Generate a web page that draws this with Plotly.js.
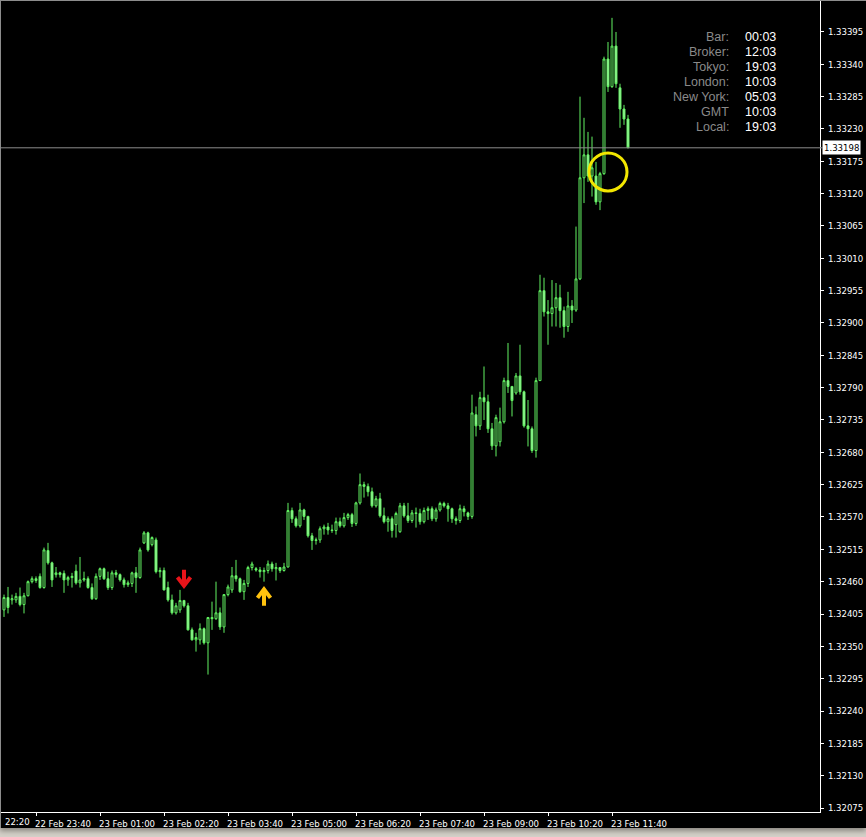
<!DOCTYPE html>
<html>
<head>
<meta charset="utf-8">
<script src="https://cdn.plot.ly/plotly-3.0.1.min.js"></script>
<style>
  html, body { margin: 0; padding: 0; background: #d4d0c8; width: 866px; height: 837px; overflow: hidden; }
  #wrap { position: absolute; left: 0; top: 0; width: 866px; height: 828px; background: #000; box-shadow: 0px 3px 5px #8a8780; }
  #chart { position: absolute; left: 0; top: 0; width: 866px; height: 828px; }
  .edge { position: absolute; background: #8c8c8c; pointer-events: none; }
</style>
</head>
<body>
<div id="wrap"><div id="chart"></div></div>
<div class="edge" style="left:0;top:0;width:866px;height:1px;"></div>
<div class="edge" style="left:0;top:0;width:1px;height:828px;"></div>
<script>
// ---- data: 5-minute bars, 22 Feb 23:00 .. 23 Feb 12:00 ----
const firstBarTime = '2011-02-22 23:00';
const barMinutes = 5;

const openP = [
1.32412,1.32433,1.32429,1.32429,1.32435,1.32421,1.32436,1.32460,1.32465,1.32469,
1.32450,1.32513,1.32492,1.32472,1.32475,1.32474,1.32463,1.32467,1.32478,1.32458,
1.32463,1.32465,1.32450,1.32431,1.32469,1.32482,1.32465,1.32450,1.32475,1.32472,
1.32463,1.32455,1.32457,1.32475,1.32467,1.32526,1.32543,1.32523,1.32531,1.32477,
1.32479,1.32450,1.32429,1.32407,1.32412,1.32428,1.32419,1.32378,1.32361,1.32361,
1.32380,1.32356,1.32399,1.32397,1.32407,1.32383,1.32438,1.32446,1.32470,1.32465,
1.32443,1.32457,1.32484,1.32482,1.32480,1.32477,1.32479,1.32490,1.32482,1.32484,
1.32479,1.32485,1.32581,1.32567,1.32555,1.32582,1.32571,1.32538,1.32530,1.32531,
1.32550,1.32553,1.32548,1.32547,1.32562,1.32555,1.32569,1.32574,1.32559,1.32594,
1.32625,1.32622,1.32613,1.32589,1.32601,1.32572,1.32562,1.32567,1.32557,1.32545,
1.32589,1.32572,1.32564,1.32577,1.32576,1.32562,1.32581,1.32584,1.32567,1.32582,
1.32593,1.32589,1.32584,1.32567,1.32564,1.32584,1.32577,1.32571,1.32744,1.32725,
1.32773,1.32766,1.32720,1.32691,1.32698,1.32732,1.32802,1.32792,1.32781,1.32810,
1.32783,1.32725,1.32720,1.32683,1.32802,1.32955,1.32919,1.32916,1.32926,1.32943,
1.32921,1.32894,1.32929,1.32922,1.32975,1.33147,1.33186,1.33150,1.33150,1.33106,
1.33154,1.33349,1.33302,1.33371,1.33300,1.33264,1.33247];

const highP = [
1.32438,1.32451,1.32438,1.32441,1.32450,1.32441,1.32462,1.32469,1.32469,1.32474,
1.32518,1.32526,1.32494,1.32485,1.32477,1.32479,1.32470,1.32475,1.32489,1.32502,
1.32477,1.32469,1.32457,1.32474,1.32484,1.32484,1.32477,1.32479,1.32480,1.32474,
1.32467,1.32462,1.32477,1.32485,1.32518,1.32546,1.32545,1.32537,1.32535,1.32484,
1.32484,1.32460,1.32438,1.32424,1.32446,1.32429,1.32424,1.32382,1.32373,1.32389,
1.32382,1.32400,1.32426,1.32460,1.32416,1.32439,1.32455,1.32485,1.32497,1.32467,
1.32463,1.32487,1.32494,1.32485,1.32485,1.32484,1.32496,1.32494,1.32492,1.32485,
1.32492,1.32594,1.32586,1.32571,1.32594,1.32584,1.32572,1.32543,1.32535,1.32554,
1.32557,1.32560,1.32557,1.32569,1.32569,1.32577,1.32577,1.32577,1.32596,1.32644,
1.32630,1.32627,1.32620,1.32606,1.32611,1.32586,1.32571,1.32571,1.32579,1.32594,
1.32594,1.32594,1.32582,1.32586,1.32584,1.32586,1.32588,1.32588,1.32586,1.32596,
1.32596,1.32594,1.32586,1.32571,1.32591,1.32589,1.32579,1.32778,1.32758,1.32783,
1.32826,1.32778,1.32730,1.32744,1.32756,1.32807,1.32866,1.32793,1.32815,1.32863,
1.32785,1.32769,1.32724,1.32807,1.32982,1.32977,1.32939,1.32973,1.32968,1.32965,
1.32928,1.32953,1.32939,1.33064,1.33285,1.33249,1.33225,1.33217,1.33174,1.33157,
1.33353,1.33378,1.33419,1.33395,1.33307,1.33271,1.33254];

const lowP = [
1.32400,1.32406,1.32421,1.32424,1.32418,1.32406,1.32435,1.32457,1.32458,1.32448,
1.32448,1.32489,1.32451,1.32467,1.32467,1.32441,1.32453,1.32450,1.32455,1.32450,
1.32460,1.32448,1.32429,1.32429,1.32463,1.32463,1.32446,1.32446,1.32467,1.32460,
1.32450,1.32451,1.32451,1.32441,1.32465,1.32524,1.32511,1.32520,1.32474,1.32467,
1.32445,1.32426,1.32404,1.32404,1.32407,1.32416,1.32377,1.32360,1.32341,1.32353,
1.32353,1.32302,1.32378,1.32395,1.32378,1.32373,1.32435,1.32441,1.32460,1.32441,
1.32429,1.32451,1.32479,1.32477,1.32467,1.32460,1.32474,1.32477,1.32462,1.32475,
1.32477,1.32484,1.32560,1.32552,1.32552,1.32565,1.32535,1.32514,1.32523,1.32526,
1.32540,1.32540,1.32543,1.32540,1.32552,1.32552,1.32565,1.32553,1.32555,1.32591,
1.32603,1.32605,1.32586,1.32586,1.32569,1.32559,1.32545,1.32535,1.32535,1.32543,
1.32569,1.32560,1.32560,1.32552,1.32557,1.32559,1.32565,1.32563,1.32562,1.32579,
1.32586,1.32562,1.32560,1.32557,1.32560,1.32571,1.32565,1.32567,1.32707,1.32718,
1.32735,1.32713,1.32684,1.32673,1.32690,1.32729,1.32781,1.32741,1.32778,1.32778,
1.32722,1.32690,1.32679,1.32671,1.32802,1.32911,1.32863,1.32894,1.32894,1.32892,
1.32875,1.32885,1.32900,1.32919,1.32973,1.33104,1.33140,1.33115,1.33101,1.33092,
1.33152,1.33293,1.33300,1.33300,1.33232,1.33237,1.33198];

const closeP = [
1.32433,1.32416,1.32431,1.32435,1.32421,1.32436,1.32460,1.32465,1.32462,1.32450,
1.32514,1.32492,1.32463,1.32475,1.32472,1.32463,1.32467,1.32469,1.32458,1.32463,
1.32465,1.32450,1.32431,1.32469,1.32482,1.32465,1.32450,1.32475,1.32472,1.32463,
1.32455,1.32458,1.32475,1.32467,1.32514,1.32543,1.32514,1.32535,1.32477,1.32479,
1.32446,1.32429,1.32407,1.32419,1.32428,1.32419,1.32378,1.32361,1.32365,1.32380,
1.32356,1.32399,1.32397,1.32407,1.32383,1.32438,1.32451,1.32470,1.32465,1.32443,
1.32457,1.32484,1.32490,1.32480,1.32477,1.32479,1.32490,1.32482,1.32484,1.32479,
1.32485,1.32581,1.32567,1.32555,1.32582,1.32571,1.32538,1.32530,1.32531,1.32550,
1.32553,1.32548,1.32547,1.32562,1.32555,1.32569,1.32574,1.32559,1.32594,1.32625,
1.32622,1.32613,1.32589,1.32601,1.32572,1.32562,1.32567,1.32547,1.32576,1.32589,
1.32572,1.32564,1.32577,1.32576,1.32562,1.32581,1.32584,1.32567,1.32582,1.32593,
1.32589,1.32584,1.32567,1.32564,1.32584,1.32579,1.32571,1.32747,1.32725,1.32773,
1.32766,1.32720,1.32691,1.32739,1.32732,1.32802,1.32792,1.32768,1.32810,1.32783,
1.32725,1.32720,1.32683,1.32802,1.32955,1.32919,1.32916,1.32926,1.32943,1.32921,
1.32894,1.32929,1.32922,1.32975,1.33147,1.33186,1.33150,1.33164,1.33106,1.33154,
1.33349,1.33302,1.33371,1.33307,1.33264,1.33247,1.33198];

// axis ticks
const tickTimes = ['2011-02-22 23:40','2011-02-23 01:00','2011-02-23 02:20','2011-02-23 03:40',
  '2011-02-23 05:00','2011-02-23 06:20','2011-02-23 07:40','2011-02-23 09:00',
  '2011-02-23 10:20','2011-02-23 11:40'];
const tickLabels = ['22 Feb 23:40','23 Feb 01:00','23 Feb 02:20','23 Feb 03:40',
  '23 Feb 05:00','23 Feb 06:20','23 Feb 07:40','23 Feb 09:00',
  '23 Feb 10:20','23 Feb 11:40'];
const edgeTickLabel = '22:20';   // visible tail of the 22 Feb 22:20 label at the left edge

// current price line
const currentPrice = 1.33198;

// chart objects
const downArrow = { time: '2011-02-23 02:45', price: 1.32465 };
const upArrow   = { time: '2011-02-23 04:25', price: 1.32435 };
const circleMark = { time: '2011-02-23 11:35', price: 1.33157 };

// info panel
const infoLabels = ['Bar:', 'Broker:', 'Tokyo:', 'London:', 'New York:', 'GMT', 'Local:'];
const infoValues = ['00:03', '12:03', '19:03', '10:03', '05:03', '10:03', '19:03'];

// ---- build ----
function pad(n) { return (n < 10 ? '0' : '') + n; }
function timeAt(start, minutesAdd) {
  const [d, t] = start.split(' ');
  const [Y, M, D] = d.split('-').map(Number);
  const [h, m] = t.split(':').map(Number);
  const dt = new Date(Date.UTC(Y, M - 1, D, h, m) + minutesAdd * 60000);
  return dt.getUTCFullYear() + '-' + pad(dt.getUTCMonth() + 1) + '-' + pad(dt.getUTCDate()) +
    ' ' + pad(dt.getUTCHours()) + ':' + pad(dt.getUTCMinutes());
}
const times = openP.map((_, i) => timeAt(firstBarTime, i * barMinutes));

const W = 866, H = 828, ML = 0, MR = 46, MT = 0, MB = 16;
const PW = W - ML - MR, PH = H - MT - MB;

const lineGreen = '#62f262';
const trace = {
  type: 'candlestick',
  x: times, open: openP, high: highP, low: lowP, close: closeP,
  increasing: { line: { color: lineGreen, width: 1 }, fillcolor: '#000000' },
  decreasing: { line: { color: lineGreen, width: 1 }, fillcolor: '#a8f5a8' },
  whiskerwidth: 0,
  hoverinfo: 'skip'
};

const tickFamily = 'DejaVu Sans Condensed, Liberation Sans, Arial, sans-serif';
const tickFont = { family: tickFamily, size: 9.5, color: '#ffffff' };
const infoFont = 'Liberation Sans, Arial, sans-serif';

const annotations = [];
infoLabels.forEach((lab, k) => {
  const py = 36.7 + 15.1 * k;
  annotations.push({ xref: 'paper', yref: 'paper', x: 731 / PW, y: 1 - py / PH, xanchor: 'right', yanchor: 'middle',
    text: lab, showarrow: false, font: { family: infoFont, size: 12.5, color: '#8a8a8a' } });
  annotations.push({ xref: 'paper', yref: 'paper', x: 743 / PW, y: 1 - py / PH, xanchor: 'left', yanchor: 'middle',
    text: infoValues[k], showarrow: false, font: { family: infoFont, size: 12.5, color: '#ffffff' } });
});
annotations.push({ xref: 'paper', yref: 'y', x: 1, y: currentPrice, xanchor: 'left', yanchor: 'middle', xshift: 2,
  text: currentPrice.toFixed(5), showarrow: false, bgcolor: '#ffffff', borderpad: 1,
  font: { family: tickFamily, size: 9.5, color: '#000000' } });
annotations.push({ xref: 'paper', yref: 'paper', x: 3 / PW, y: -9 / PH, xanchor: 'left', yanchor: 'middle',
  text: edgeTickLabel, showarrow: false, font: tickFont });

const shapes = [
  { type: 'line', xref: 'paper', yref: 'y', x0: 0, x1: 1.003, y0: currentPrice, y1: currentPrice,
    line: { color: '#8c8c8c', width: 1 } },
  { type: 'path', xref: 'x', yref: 'y', xsizemode: 'pixel', ysizemode: 'pixel',
    xanchor: downArrow.time, yanchor: downArrow.price,
    path: 'M 0 9 L 0 -6 M -6.5 1.5 L 0 -7 L 6.5 1.5',
    line: { color: '#e8141a', width: 4 } },
  { type: 'path', xref: 'x', yref: 'y', xsizemode: 'pixel', ysizemode: 'pixel',
    xanchor: upArrow.time, yanchor: upArrow.price,
    path: 'M 0 -9.5 L 0 6 M -6.5 -1.5 L 0 7 L 6.5 -1.5',
    line: { color: '#ffc20e', width: 4 } },
  { type: 'circle', xref: 'x', yref: 'y', xsizemode: 'pixel', ysizemode: 'pixel',
    xanchor: circleMark.time, yanchor: circleMark.price,
    x0: -19, x1: 19, y0: -19, y1: 19,
    line: { color: '#f2e600', width: 3 } }
];

const layout = {
  width: W, height: H,
  margin: { l: ML, r: MR, t: MT, b: MB, pad: 0 },
  paper_bgcolor: '#000000', plot_bgcolor: '#000000',
  showlegend: false,
  dragmode: false,
  xaxis: {
    type: 'date',
    range: ['2011-02-22 22:55', '2011-02-23 16:00'],
    tickmode: 'array', tickvals: tickTimes, ticktext: tickLabels,
    ticks: 'outside', ticklen: 3, tickcolor: '#ffffff', tickwidth: 1,
    showline: true, linecolor: '#ffffff', linewidth: 1,
    showgrid: false, zeroline: false,
    tickfont: tickFont, ticklabelshift: 27, ticklabelstandoff: 0,
    ticklabeloverflow: 'allow',
    rangeslider: { visible: false },
    fixedrange: true
  },
  yaxis: {
    side: 'right',
    range: [1.320682, 1.334494],
    tick0: 1.32075, dtick: 0.00055, tickformat: '.5f',
    ticks: 'outside', ticklen: 3, tickcolor: '#ffffff', tickwidth: 1,
    showline: true, linecolor: '#ffffff', linewidth: 1,
    showgrid: false, zeroline: false,
    tickfont: tickFont, ticklabelstandoff: 2,
    ticklabeloverflow: 'allow',
    fixedrange: true
  },
  annotations: annotations,
  shapes: shapes
};

Plotly.newPlot('chart', [trace], layout, { staticPlot: true, displayModeBar: false });
</script>
</body>
</html>
